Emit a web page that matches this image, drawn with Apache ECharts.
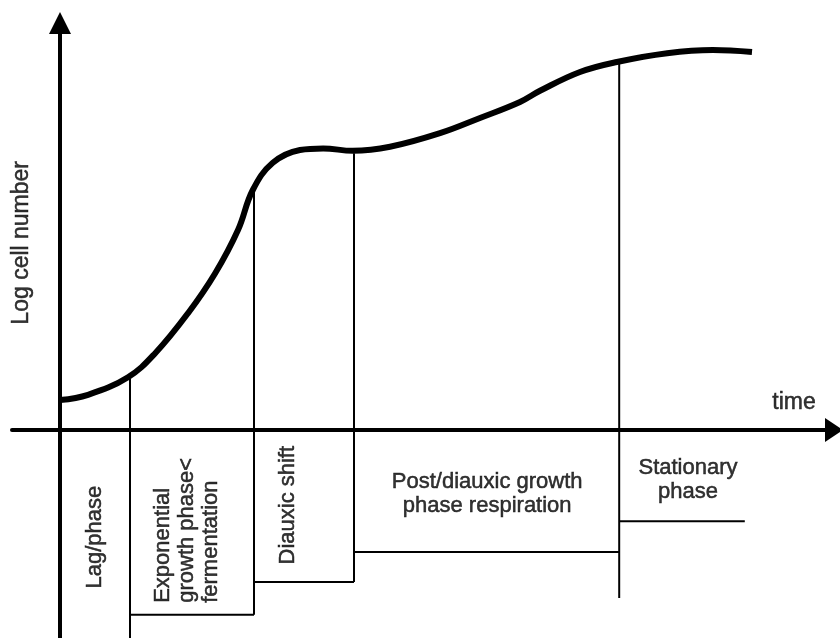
<!DOCTYPE html>
<html>
<head>
<meta charset="utf-8">
<script src="https://cdn.jsdelivr.net/npm/echarts@6/dist/echarts.min.js"></script>
<style>
  html, body { margin: 0; padding: 0; background: #fff; }
  #chart { width: 840px; height: 638px; }
</style>
</head>
<body>
<div id="chart"></div>
<script>
// growth curve (time and log cell number in arbitrary units)
var curveTime = [0, 3.5, 8.5, 11.9, 16, 19.4, 22.25, 24.1, 26.6, 30, 32.9, 36.6, 41.25, 47.5, 52.5, 57.5, 60, 65, 69.6, 75.9, 81.6, 86.5];
var curveLogN = [3.75, 4.4, 6.6, 9.6, 14.6, 19.6, 25, 30, 33.4, 35, 35.2, 34.9, 35.4, 37.1, 39, 41, 42.4, 44.75, 46, 47.1, 47.5, 47.25];

// phase dividers: vertical lines from the curve down to the label boxes
var dividerTime = [8.75, 24.25, 36.75, 69.9];
var dividerTop = [6.4, 29.8, 34.6, 45.8];
var dividerBottom = [-26, -23.1, -19, -21];

// floor of each label box
var boxStart = [8.75, 24.25, 36.75, 69.9];
var boxEnd = [24.25, 36.75, 69.9, 85.6];
var boxFloor = [-23.1, -19, -15.25, -11.4];

// texts
var phaseNames = ['Lag/phase', 'Exponential\ngrowth phase<\nfermentation', 'Diauxic shift', 'Post/diauxic growth\nphase respiration', 'Stationary\nphase'];
var phaseX = [4.4, 15.9, 28.5, 53.4, 78.5];
var phaseY = [-13.4, -21.6, -9.4, -8, -6.25];
var phaseRotate = [90, 90, 90, 0, 0];
var phaseAlign = ['center', 'left', 'center', 'center', 'center'];
var axisTitles = ['time', 'Log cell number'];
var axisTitleX = [91.75, -4.75];
var axisTitleY = [3.4, 23.4];
var axisTitleRotate = [0, 90];

var chart = echarts.init(document.getElementById('chart'));
var font = '"Liberation Sans", Arial, sans-serif';

var series = [];

series.push({
    type: 'line',
    data: curveTime.map(function (t, i) { return [t, curveLogN[i]]; }),
    smooth: 0.4,
    showSymbol: false,
    lineStyle: { color: '#000', width: 6 },
    z: 5
});

dividerTime.forEach(function (t, i) {
    series.push({
        type: 'line',
        data: [[t, dividerTop[i]], [t, dividerBottom[i]]],
        showSymbol: false,
        lineStyle: { color: '#000', width: 2 },
        z: 3
    });
});

boxStart.forEach(function (s, i) {
    series.push({
        type: 'line',
        data: [[s, boxFloor[i]], [boxEnd[i], boxFloor[i]]],
        showSymbol: false,
        lineStyle: { color: '#000', width: 2 },
        z: 3
    });
});

var textItems = [];
phaseNames.forEach(function (name, i) {
    textItems.push({
        name: name,
        value: [phaseX[i], phaseY[i]],
        label: { rotate: phaseRotate[i], align: phaseAlign[i], fontSize: 22, lineHeight: 24 }
    });
});
axisTitles.forEach(function (name, i) {
    textItems.push({
        name: name,
        value: [axisTitleX[i], axisTitleY[i]],
        label: { rotate: axisTitleRotate[i], align: 'center', fontSize: 23 }
    });
});

series.push({
    type: 'scatter',
    symbolSize: 0,
    data: textItems,
    label: {
        show: true,
        position: 'inside',
        formatter: '{b}',
        color: '#000',
        fontFamily: font,
        verticalAlign: 'middle',
        textBorderColor: '#000',
        textBorderWidth: 0.5
    },
    z: 6
});

chart.setOption({
    animation: false,
    backgroundColor: '#fff',
    grid: { left: 12, right: 6, top: 23, bottom: 0 },
    xAxis: {
        type: 'value',
        min: -6,
        max: 96.75,
        axisLine: {
            onZero: true,
            symbol: ['none', 'triangle'],
            symbolSize: [24, 18],
            lineStyle: { color: '#000', width: 4 }
        },
        axisTick: { show: false },
        axisLabel: { show: false },
        splitLine: { show: false }
    },
    yAxis: {
        type: 'value',
        min: -26,
        max: 50.875,
        axisLine: {
            onZero: true,
            symbol: ['none', 'triangle'],
            symbolSize: [22, 22],
            lineStyle: { color: '#000', width: 4 }
        },
        axisTick: { show: false },
        axisLabel: { show: false },
        splitLine: { show: false }
    },
    series: series
});
</script>
</body>
</html>
